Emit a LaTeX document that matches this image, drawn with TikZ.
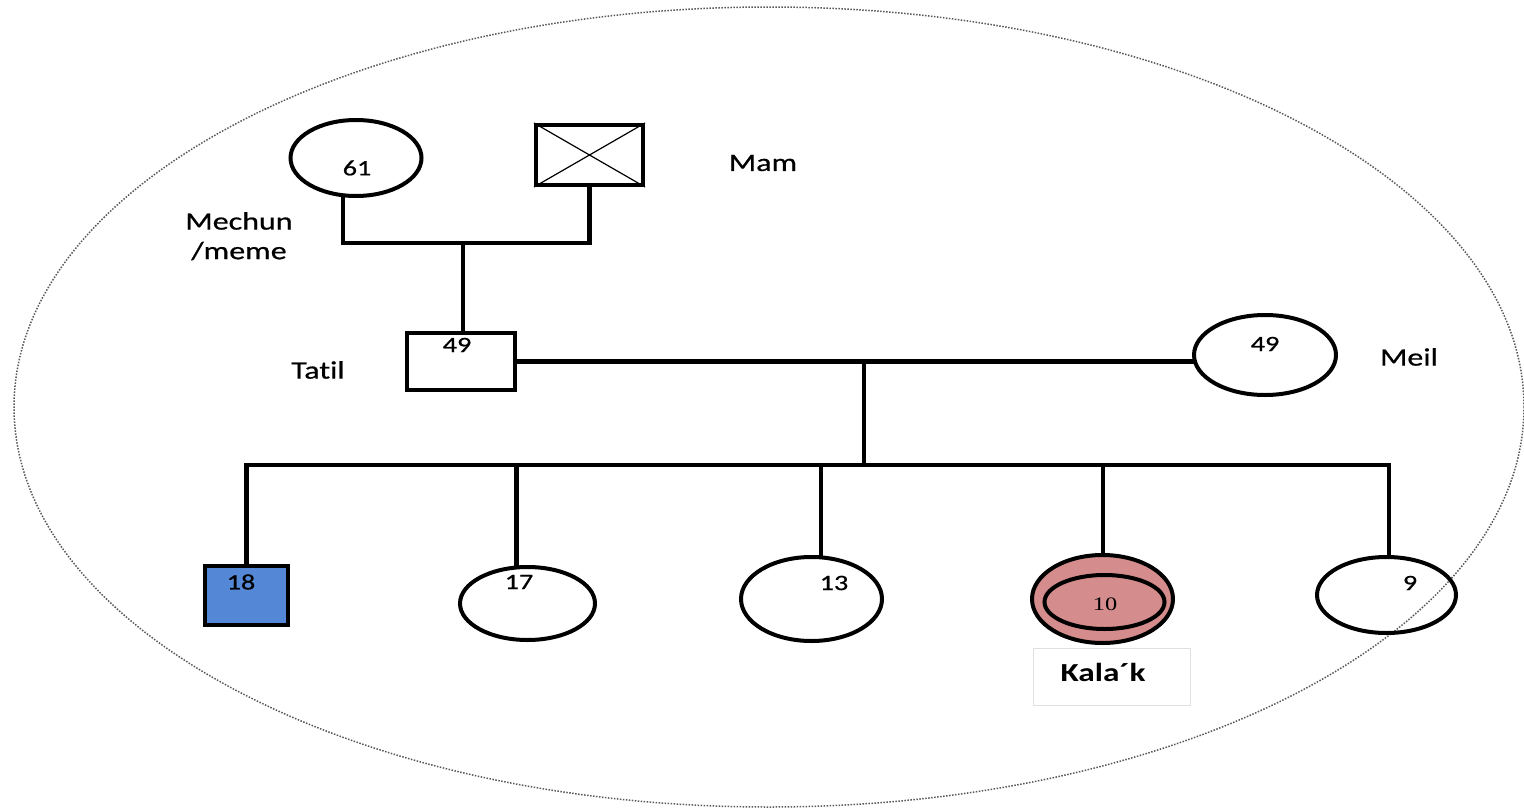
\documentclass[tikz,border=0pt]{standalone}
\usepackage{fontspec}
\setmainfont{Carlito}[Ligatures=NoCommon]
\newfontfamily\heavy{Carlito}[Ligatures=NoCommon, FakeBold=0.6]
\newfontfamily\serifnum{Liberation Serif}
\usetikzlibrary{shapes.geometric}
\definecolor{sonblue}{RGB}{84,136,214}
\definecolor{probandpink}{RGB}{212,140,140}
\newcommand{\wtext}[1]{\scalebox{1.28}[1]{#1}}

\begin{document}
\begin{tikzpicture}[x=1pt,y=-1pt,
  kin/.style={line width=4.5pt, line cap=rect},
  fem/.style={ellipse, draw, line width=4pt, inner sep=0pt},
  mal/.style={rectangle, draw, line width=4pt, inner sep=0pt},
  age/.style={font=\heavy\fontsize{22}{26}\selectfont, inner sep=0pt},
  who/.style={font=\heavy\fontsize{25}{30}\selectfont, inner sep=0pt},
]
\useasboundingbox (0,0) rectangle (1524,811);

% household boundary
\draw[black!65, line width=1.5pt, dash pattern=on 1.5pt off 1.5pt]
  (769,407) ellipse [x radius=755pt, y radius=400pt];

% grandparents
\node[fem, minimum width=131pt, minimum height=76pt] (g61) at (356,158) {};
\node[mal, minimum width=107pt, minimum height=60pt] (mam) at (589.5,155) {};
\draw[line width=1.2pt] (mam.north west) -- (mam.south east)
                        (mam.north east) -- (mam.south west);

% parents
\node[mal, minimum width=108pt, minimum height=57pt] (tatil) at (461,361.5) {};
\node[fem, minimum width=142pt, minimum height=80pt] (meil) at (1265,355) {};

% children
\node[mal, fill=sonblue, minimum width=83pt, minimum height=59pt] (c18) at (246.5,595.5) {};
\node[fem, minimum width=135pt, minimum height=73pt] (c17) at (527.5,603.5) {};
\node[fem, minimum width=141pt, minimum height=84pt] (c13) at (811.5,599) {};
\node[fem, fill=probandpink, minimum width=141pt, minimum height=88pt] (c10) at (1102.5,599) {};
\node[fem, fill=probandpink, minimum width=120pt, minimum height=54pt] (c10in) at (1104.5,602) {};
\node[fem, minimum width=139pt, minimum height=76pt] (c9) at (1386.5,595) {};

% label box under the index child
\node[draw=black!12, line width=0.8pt, minimum width=157pt, minimum height=57pt] (kbox) at (1111.5,676.5) {};

% connectors
\coordinate (jg) at (463,243);
\draw[kin] (g61.south) ++(-13,0) |- (jg) -| (mam.south);
\draw[kin] (jg) -- (jg |- tatil.north);
\draw[kin] (tatil.east) -- (tatil.east -| meil.west);
\coordinate (jp) at (864,362);
\coordinate (js) at (864,465);
\draw[kin] (jp) -- (js);
\path (c18.north) coordinate (d18);
\path (c17.north) ++(-11,0) coordinate (d17);
\path (c13.north) ++(9.5,0) coordinate (d13);
\path (c10.north) ++(0.5,0) coordinate (d10);
\path (c9.north) ++(2.5,0) coordinate (d9);
\draw[kin] (d18 |- js) -- (d9 |- js);
\foreach \d in {18,17,13,10,9} \draw[kin] (d\d) -- (d\d |- js);

% ages
\node[age] (a61) at (357,168) {\wtext{61}};
\node[age] (a49t) at (457,345) {\wtext{49}};
\node[age] (a49m) at (1265,344) {\wtext{49}};
\node[age] (a18) at (241,582) {\wtext{18}};
\node[age] (a17) at (519,582) {\wtext{17}};
\node[age] (a13) at (834,583) {\wtext{13}};
\node[age, font=\serifnum\fontsize{19}{22}\selectfont] (a10) at (1105,604) {\wtext{10}};
\node[age] (a9) at (1410,583) {\wtext{9}};

% names
\node[who] (n1) at (239,221) {\wtext{Mechun}};
\node[who] (n2) at (239,251) {\wtext{/meme}};
\node[who] (n3) at (763,163) {\wtext{Mam}};
\node[who] (n4) at (318,370) {\wtext{Tatil}};
\node[who] (n5) at (1409,357) {\wtext{Meil}};
\node[who, font=\normalfont\bfseries\fontsize{26}{30}\selectfont] (n6) at (1103,672) {\wtext{Kala´k}};
\end{tikzpicture}
\end{document}
